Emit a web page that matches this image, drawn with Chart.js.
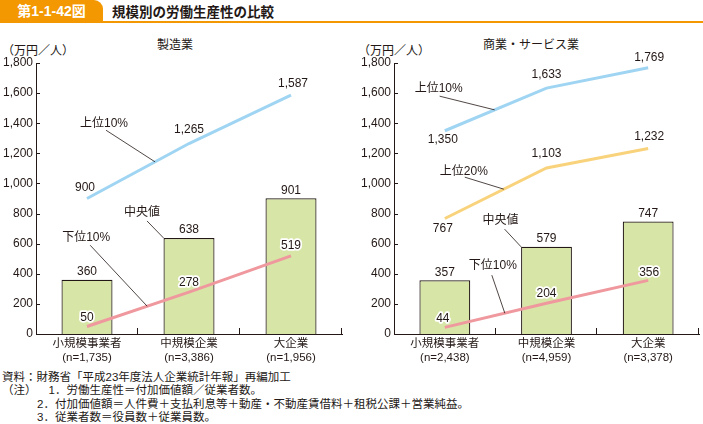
<!DOCTYPE html>
<html>
<head>
<meta charset="utf-8">
<script src="https://cdn.jsdelivr.net/npm/chart.js@4"></script>
<style>
body { margin: 0; width: 703px; height: 424px; background: #fff; position: relative; overflow: hidden;
  font-family: "Liberation Sans", "Noto Sans CJK JP", sans-serif; color: #231815; }
.box { position: absolute; left: 0; top: 0; width: 103px; height: 22px; background: #f39800;
  border-top-right-radius: 9px; color: #fff; font-weight: bold; font-size: 14px; line-height: 23px; text-align: center; }
.rule { position: absolute; left: 0; top: 21px; width: 703px; height: 2px; background: #f39800; }
.title { position: absolute; left: 112px; top: 3px; font-size: 13.5px; font-weight: bold; line-height: 20px; }
.sub { position: absolute; top: 37px; font-size: 12px; line-height: 16px; text-align: center; }
.unit { position: absolute; top: 43px; font-size: 12px; line-height: 16px; }
canvas { position: absolute; top: 0; }
.notes { position: absolute; left: 2px; top: 371px; font-size: 11.5px; line-height: 13.3px; white-space: nowrap; }
.notes div { height: 13.3px; }
.ind { padding-left: 35px; }
</style>
</head>
<body>
<div class="box">第1-1-42図</div>
<div class="rule"></div>
<div class="title">規模別の労働生産性の比較</div>

<div class="sub" style="left:125px;width:100px">製造業</div>
<div class="sub" style="left:481px;width:100px">商業・サービス業</div>
<div class="unit" style="left:2px">（万円／人）</div>
<div class="unit" style="left:358px">（万円／人）</div>

<canvas id="mfg" width="350" height="365" style="left:0"></canvas>
<canvas id="svc" width="345" height="365" style="left:358px"></canvas>

<div class="notes">
  <div>資料：財務省「平成23年度法人企業統計年報」再編加工</div>
  <div>（注）<span style="padding-left:12px">1．労働生産性＝付加価値額／従業者数。</span></div>
  <div class="ind">2．付加価値額＝人件費＋支払利息等＋動産・不動産賃借料＋租税公課＋営業純益。</div>
  <div class="ind">3．従業者数＝役員数＋従業員数。</div>
</div>

<script>
const categoryNames = ["小規模事業者", "中規模企業", "大企業"];
const sizesMfg = ["(n=1,735)", "(n=3,386)", "(n=1,956)"];
const sizesSvc = ["(n=2,438)", "(n=4,959)", "(n=3,378)"];

const medianMfg = [360, 638, 901];
const top10Mfg = [900, 1265, 1587];
const bottom10Mfg = [50, 278, 519];

const medianSvc = [357, 579, 747];
const top10Svc = [1350, 1633, 1769];
const top20Svc = [767, 1103, 1232];
const bottom10Svc = [44, 204, 356];

const yMin = 0, yMax = 1800, yStep = 200;

const ink = "#231815";
const barFill = "#d7e5a6";
const blue = "#9fd5f2";
const pink = "#ef989e";
const yellow = "#f9d37c";

Chart.defaults.font.family = '"Liberation Sans", "Noto Sans CJK JP", sans-serif';
Chart.defaults.color = ink;

const fmt = v => v.toLocaleString("en-US");

// tick marks, data labels and leader notes
const decor = {
  id: "decor",
  afterDatasetsDraw(chart, args, opts) {
    const ctx = chart.ctx;
    const { left, right, bottom } = chart.chartArea;
    const xs = chart.scales.x, ys = chart.scales.y;
    ctx.save();
    ctx.strokeStyle = ink;
    ctx.lineWidth = 1;
    ctx.beginPath();
    ys.ticks.forEach(t => {
      const py = Math.round(ys.getPixelForValue(t.value)) + 0.5;
      ctx.moveTo(left, py);
      ctx.lineTo(left + 4, py);
    });
    const n = chart.data.labels.length;
    for (let i = 1; i <= n; i++) {
      const px = i < n ? (xs.getPixelForValue(i - 1) + xs.getPixelForValue(i)) / 2 : right;
      const rx = Math.round(px) - 0.5;
      ctx.moveTo(rx, bottom);
      ctx.lineTo(rx, bottom - 6);
    }
    ctx.stroke();

    // leader notes
    ctx.font = '12px "Liberation Sans", "Noto Sans CJK JP", sans-serif';
    ctx.textAlign = "center";
    ctx.textBaseline = "middle";
    ctx.lineWidth = 0.8;
    (opts.notes || []).forEach(nt => {
      const pts = chart.getDatasetMeta(nt.ds).data;
      let tx, ty;
      if (nt.bar !== undefined) {
        const b = pts[nt.bar];
        tx = b.x - b.width / 2;
        ty = b.y;
      } else {
        const a = pts[nt.seg], c = pts[nt.seg + 1];
        tx = a.x + (c.x - a.x) * nt.t;
        ty = a.y + (c.y - a.y) * nt.t;
      }
      const cx = tx + nt.dx, cy = ty + nt.dy;
      ctx.beginPath();
      ctx.moveTo(cx + nt.lx, cy + nt.ly);
      ctx.lineTo(tx, ty);
      ctx.stroke();
      ctx.fillStyle = ink;
      ctx.fillText(nt.text, cx, cy);
    });

    // value labels
    chart.data.datasets.forEach((ds, di) => {
      const meta = chart.getDatasetMeta(di);
      meta.data.forEach((el, i) => {
        const txt = fmt(ds.data[i]);
        const dy = ds.type === "bar" ? -8 : ds.labelDy[i];
        const lx = el.x + (ds.labelDx ? ds.labelDx[i] : 0);
        const ly = el.y + dy;
        if (ds.halo) {
          ctx.strokeStyle = "#fff";
          ctx.lineWidth = 3.5;
          ctx.lineJoin = "round";
          ctx.strokeText(txt, lx, ly);
        }
        ctx.fillStyle = ink;
        ctx.fillText(txt, lx, ly);
      });
    });
    ctx.restore();
  }
};

function lineSet(data, color, labelDy, extra) {
  return Object.assign({
    type: "line", data, borderColor: color, borderWidth: 3,
    pointRadius: 0, tension: 0, fill: false, order: 1, labelDy
  }, extra || {});
}

function makeChart(id, sizes, datasets, notes, padRight) {
  return new Chart(document.getElementById(id).getContext("2d"), {
    data: {
      labels: categoryNames.map((c, i) => [c, sizes[i]]),
      datasets
    },
    options: {
      responsive: false,
      animation: false,
      devicePixelRatio: 1,
      layout: { padding: { left: 0, right: padRight, top: 63, bottom: 0 } },
      plugins: { legend: { display: false }, tooltip: { enabled: false }, decor: { notes } },
      scales: {
        x: {
          grid: { display: false, drawTicks: false },
          border: { display: true, color: ink, width: 1 },
          ticks: { font: { size: 11.5, lineHeight: 1.2 }, padding: 3, maxRotation: 0, color: ink },
          afterFit: s => { s.height = 31; }
        },
        y: {
          min: yMin, max: yMax,
          grid: { display: false, drawTicks: false },
          border: { display: true, color: ink, width: 1 },
          ticks: { stepSize: yStep, font: { size: 12 }, padding: 3, color: ink, callback: v => fmt(v) },
          afterFit: s => { s.width = 36; }
        }
      }
    },
    plugins: [decor]
  });
}

makeChart("mfg", sizesMfg, [
  { type: "bar", data: medianMfg, backgroundColor: barFill, borderColor: ink, borderWidth: 1.2,
    barPercentage: 0.5, categoryPercentage: 1, order: 2 },
  lineSet(top10Mfg, blue, [-11, -14, -11], { labelDx: [-2, 0, 2] }),
  lineSet(bottom10Mfg, pink, [-9, -9, -10], { halo: true })
], [
  { text: "上位10%", ds: 1, seg: 0, t: 0.667, dx: -51, dy: -38.6, lx: 2, ly: 7 },
  { text: "中央値", ds: 0, bar: 1, dx: -21.5, dy: -25, lx: 5, ly: 8 },
  { text: "下位10%", ds: 2, seg: 0, t: 0.59, dx: -61, dy: -69, lx: 4, ly: 8 }
], 8);

makeChart("svc", sizesSvc, [
  { type: "bar", data: medianSvc, backgroundColor: barFill, borderColor: ink, borderWidth: 1.2,
    barPercentage: 0.5, categoryPercentage: 1, order: 2 },
  lineSet(top10Svc, blue, [9, -13, -10], { labelDx: [-2, 0, 1] }),
  lineSet(top20Svc, yellow, [10, -14, -12], { labelDx: [-2, 0, 1] }),
  lineSet(bottom10Svc, pink, [-9, -10, -8], { halo: true, labelDx: [-2, 0, 1] })
], [
  { text: "上位10%", ds: 1, seg: 0, t: 0.49, dx: -56, dy: -20.7, lx: 1, ly: 7 },
  { text: "上位20%", ds: 2, seg: 0, t: 0.58, dx: -40, dy: -17, lx: 1, ly: 5 },
  { text: "中央値", ds: 0, bar: 1, dx: -20.5, dy: -25.7, lx: 4, ly: 8 },
  { text: "下位10%", ds: 3, seg: 0, t: 0.59, dx: -12, dy: -47, lx: -1, ly: 9 }
], 4);
</script>
</body>
</html>
